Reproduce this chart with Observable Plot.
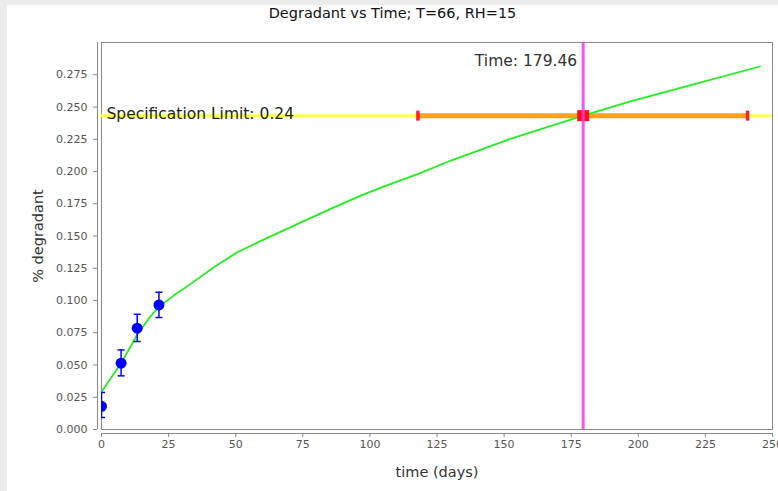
<!DOCTYPE html>
<html>
<head>
<meta charset="utf-8">
<script src="https://cdn.jsdelivr.net/npm/d3@7"></script>
<script src="https://cdn.jsdelivr.net/npm/@observablehq/plot@0.6"></script>
<style>
  html, body { margin: 0; padding: 0; background: #ececec; width: 778px; height: 491px; overflow: hidden; }
  #panel { position: absolute; left: 7px; top: 5px; width: 771px; height: 486px; background: #fff; }
  #title { height: 27px; line-height: 29px; text-align: center; font: 14.5px "DejaVu Sans", sans-serif; color: #111; white-space: nowrap; overflow: visible; }
  svg { display: block; }
</style>
</head>
<body>
<div id="panel">
  <div id="title">Degradant vs Time; T=66, RH=15</div>
  <div id="chart"></div>
</div>
<script>
// Measured data points
const sampleTime = [0, 7.3, 13.3, 21.4];
const sampleMean = [0.018, 0.0514, 0.0785, 0.0966];
const sampleLow  = [0.0093, 0.0416, 0.0682, 0.0868];
const sampleHigh = [0.0287, 0.0617, 0.0893, 0.1064];

// Fitted curve
const curveTime = [0, 3.5, 7.5, 13.3, 18, 21.4, 27, 33, 42, 50.6, 61.8, 74.3, 85.4, 96.6, 105.3, 117.8, 130.2, 152.6, 179.46, 197.4, 222.3, 245.3];
const curveValue = [0.029, 0.040, 0.052, 0.0735, 0.087, 0.095, 0.104, 0.1125, 0.126, 0.1374, 0.1485, 0.1606, 0.171, 0.1813, 0.1885, 0.198, 0.2085, 0.2255, 0.2433, 0.2545, 0.2685, 0.2814];

// Specification limit and predicted time
const specLimit = 0.2433;
const specLabel = "Specification Limit: 0.24";
const timeAtLimit = 179.46;
const timeLabel = "Time: 179.46";
const timeInterval = [117.9, 240.7];

// Axes
const xTicks = [0, 25, 50, 75, 100, 125, 150, 175, 200, 225, 250];
const yTicks = [0, 0.025, 0.05, 0.075, 0.1, 0.125, 0.15, 0.175, 0.2, 0.225, 0.25, 0.275];
const xLabel = "time (days)";
const yLabel = "% degradant";

const points = sampleTime.map((t, i) => ({t, v: sampleMean[i], lo: sampleLow[i], hi: sampleHigh[i]}));
const caps = points.flatMap(d => [{t: d.t, v: d.lo}, {t: d.t, v: d.hi}]);
const curve = curveTime.map((t, i) => ({t, v: curveValue[i]}));

const hline = {draw(ctx) { ctx.moveTo(-3.5, 0); ctx.lineTo(3.5, 0); }};
const vline = {draw(ctx) { ctx.moveTo(0, -5); ctx.lineTo(0, 5); }};
const rectSym = {draw(ctx) { ctx.rect(-6, -5.5, 12, 11); }};

const axisGray = "#8a8a8a";
const font = "DejaVu Sans, sans-serif";

const chart = Plot.plot({
  width: 771,
  height: 459,
  marginTop: 10,
  marginBottom: 62,
  marginLeft: 94,
  marginRight: 6,
  style: {fontFamily: font, background: "#fff", overflow: "visible"},
  x: {domain: [0, 250]},
  y: {domain: [0, 0.3]},
  marks: [
    Plot.frame({stroke: axisGray}),
    Plot.ruleX([0], {dx: -4, stroke: axisGray}),
    Plot.ruleY([0], {dy: 4, stroke: axisGray}),
    Plot.axisY({ticks: yTicks, tickFormat: d3.format(".3f"), tickSize: 4, tickPadding: 6, dx: -4, stroke: axisGray, fill: "#555", fontSize: 11, label: null}),
    Plot.axisX({ticks: xTicks, tickFormat: d3.format("d"), tickSize: 4, tickPadding: 3, dy: 4, stroke: axisGray, fill: "#555", fontSize: 11, label: null}),
    Plot.text([yLabel], {frameAnchor: "left", dx: -63, rotate: -90, fontSize: 14.5, fill: "#333", textAnchor: "middle"}),
    Plot.text([xLabel], {frameAnchor: "bottom", dy: 43, fontSize: 14.5, fill: "#333", lineAnchor: "middle"}),
    Plot.ruleY([specLimit], {stroke: "#ffff55", strokeWidth: 3}),
    Plot.ruleY([specLimit], {x1: timeInterval[0], x2: timeInterval[1], stroke: "#ffa020", strokeWidth: 5}),
    Plot.line(curve, {x: "t", y: "v", stroke: "#22ee22", strokeWidth: 1.8, curve: "linear", clip: true}),
    Plot.dot(timeInterval, {x: d => d, y: () => specLimit, symbol: vline, r: 5, stroke: "#ff2020", strokeWidth: 3.5, fill: "none"}),
    Plot.dot([timeAtLimit], {x: d => d, y: () => specLimit, symbol: rectSym, r: 6, fill: "#ff1010", stroke: "none"}),
    Plot.ruleX([timeAtLimit], {stroke: "#ff30ff", strokeWidth: 3, strokeOpacity: 0.85}),
    Plot.text([specLabel], {x: 0, y: specLimit, dx: 5, dy: 3, textAnchor: "start", lineAnchor: "bottom", fontSize: 15.5, fill: "#222"}),
    Plot.text([timeLabel], {x: timeAtLimit, frameAnchor: "top", dx: -6, dy: 23, textAnchor: "end", lineAnchor: "bottom", fontSize: 15.5, fill: "#333"}),
    Plot.ruleX(points, {x: "t", y1: "lo", y2: "hi", stroke: "#0000ff", strokeWidth: 1.5, clip: true}),
    Plot.dot(caps, {x: "t", y: "v", symbol: hline, r: 4, stroke: "#0000ff", strokeWidth: 1.5, fill: "none", clip: true}),
    Plot.dot(points, {x: "t", y: "v", r: 5.5, fill: "#0000ff", stroke: "none", clip: true})
  ]
});
document.getElementById("chart").appendChild(chart);
</script>
</body>
</html>
